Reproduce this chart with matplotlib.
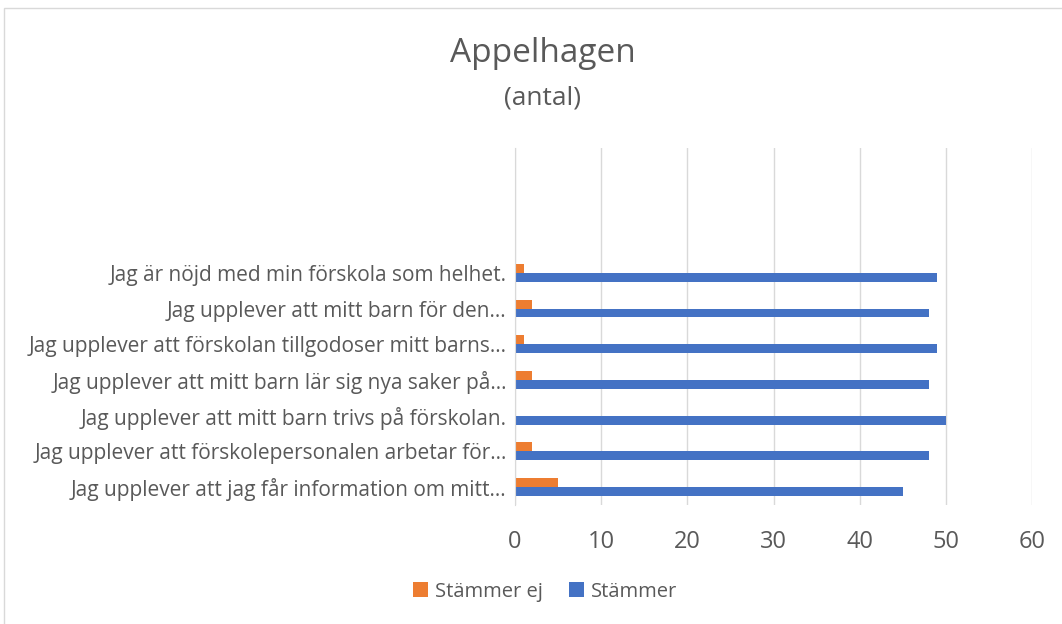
import numpy as np
import matplotlib.pyplot as plt
from matplotlib.patches import Rectangle

plt.rcParams['font.family'] = ['Open Sans', 'DejaVu Sans']

# bottom to top, three empty slots at the top of the category axis
labels = [
    "Jag upplever att jag får information om mitt…",
    "Jag upplever att förskolepersonalen arbetar för…",
    "Jag upplever att mitt barn trivs på förskolan.",
    "Jag upplever att mitt barn lär sig nya saker på…",
    "Jag upplever att förskolan tillgodoser mitt barns…",
    "Jag upplever att mitt barn för den…",
    "Jag är nöjd med min förskola som helhet.",
    "", "", "",
]
stammer = [45, 48, 50, 48, 49, 48, 49]
stammer_ej = [5, 2, 0, 2, 1, 2, 1]
xticks = [0, 10, 20, 30, 40, 50, 60]

orange = '#ED7D31'
blue = '#4472C4'
txt = '#595959'

fig = plt.figure(figsize=(10.62, 6.24), dpi=100)
fig.patches.append(Rectangle((0.004, -0.01), 1.0, 0.997, transform=fig.transFigure,
                             fill=False, edgecolor='#d9d9d9', lw=1))

ax = fig.add_axes([0.485, 0.191, 0.487, 0.572])
y = np.arange(len(stammer))
h = 0.25
ax.barh(y + h / 2, stammer_ej, height=h, color=orange, label='Stämmer ej')
ax.barh(y - h / 2, stammer, height=h, color=blue, label='Stämmer')

ax.set_xlim(0, 60)
ax.set_ylim(-0.5, len(labels) - 0.5)
ax.set_xticks(xticks)
ax.set_yticks(np.arange(len(labels)))
ax.set_yticklabels(labels)
ax.tick_params(axis='y', length=0, pad=6, labelsize=15, labelcolor=txt)
ax.tick_params(axis='x', length=0, pad=18, labelsize=17, labelcolor=txt)
ax.grid(axis='x', color='#d9d9d9', lw=1)
ax.set_axisbelow(True)
for s in ['top', 'right', 'bottom']:
    ax.spines[s].set_visible(False)
ax.spines['left'].set_color('#d9d9d9')

fig.text(0.511, 0.915, 'Appelhagen', ha='center', va='center', fontsize=24, color=txt)
fig.text(0.511, 0.843, '(antal)', ha='center', va='center', fontsize=19, color=txt)

fig.legend(loc='center', bbox_to_anchor=(0.513, 0.052), ncol=2, frameon=False,
           fontsize=14.5, labelcolor=txt, handlelength=0.75, handleheight=0.75,
           handletextpad=0.35, columnspacing=1.3)

fig.savefig('out.png', dpi=100)
